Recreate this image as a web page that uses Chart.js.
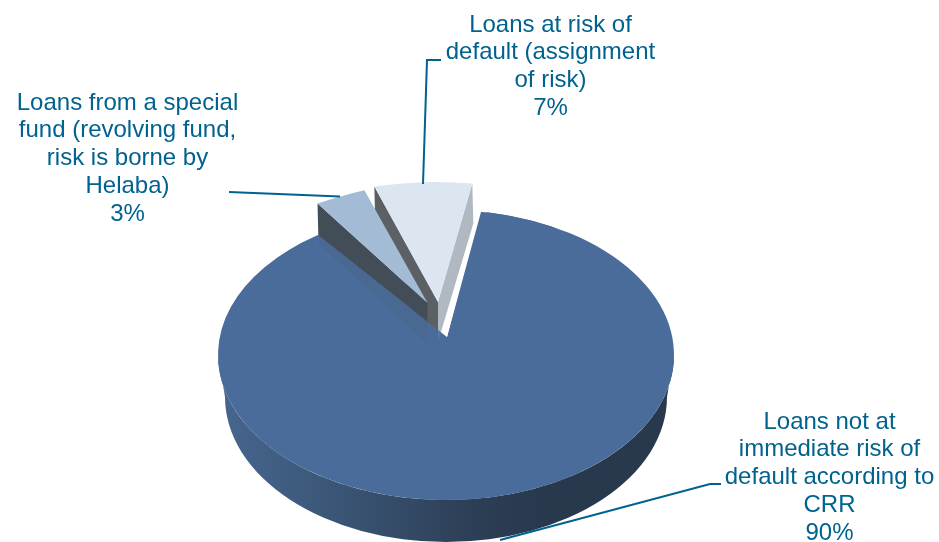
<!DOCTYPE html>
<html>
<head>
<meta charset="utf-8">
<title>Loans by risk</title>
<script src="https://cdn.jsdelivr.net/npm/chart.js@4/dist/chart.umd.min.js"></script>
<style>
    html, body { margin: 0; padding: 0; background: #fff; }
    canvas { display: block; }
</style>
</head>
<body>
<canvas id="riskChart" width="939" height="542"></canvas>
<script>
// Chart data
const categories = ['Loans not at immediate risk of default according to CRR', 'Loans from a special fund (revolving fund, risk is borne by Helaba)', 'Loans at risk of default (assignment of risk)'];
const shares = [90, 3, 7];
const sliceColors = ['#4A6C9B', '#A3BBD4', '#DCE6F1'];

// Wrapped label text, same order as categories
const labelLines = [
    ['Loans not at', 'immediate risk of', 'default according to', 'CRR'],
    ['Loans from a special', 'fund (revolving fund,', 'risk is borne by', 'Helaba)'],
    ['Loans at risk of', 'default (assignment', 'of risk)']
];

// Fake 3D projection of each slice (unit circle to pixels)
const views = [
    { x: 446, y: 355, a: 228, b: 0, c: 0, d: 145 },
    { x: 427.5, y: 303, a: 264, b: -28, c: -5, d: 124 },
    { x: 438, y: 302, a: 225, b: -2, c: 6, d: 120 }
];
const mainApex = { x: 447, y: 337 };
const mainStartDir = { x: 34, y: -125 };
const mainEndDir = { x: -129, y: -102 };
const wallDepth = 40;

// Label anchors and leader lines
const labelPos = [{ x: 829.5, y: 421 }, { x: 127.5, y: 102 }, { x: 550.5, y: 24 }];
const leaders = [
    [[500, 540], [710, 484], [721, 484]],
    [[229, 192], [340, 196.5]],
    [[423, 184], [427, 60], [441, 60]]
];

function applyView(ctx, arc, v) {
    const R = arc.outerRadius;
    ctx.transform(v.a / R, v.b / R, v.c / R, v.d / R, v.x, v.y);
    ctx.translate(-arc.x, -arc.y);
}

function project(v, angle) {
    const cx = Math.cos(angle), cy = Math.sin(angle);
    return { x: v.x + v.a * cx + v.c * cy, y: v.y + v.b * cx + v.d * cy };
}

// Flat side of a slice, hanging below one of its straight edges
function drawWall(ctx, v, angle, color) {
    const p = project(v, angle);
    ctx.fillStyle = color;
    ctx.beginPath();
    ctx.moveTo(v.x, v.y);
    ctx.lineTo(p.x, p.y);
    ctx.lineTo(p.x + 1, p.y + wallDepth);
    ctx.lineTo(v.x, v.y + wallDepth);
    ctx.closePath();
    ctx.fill();
}

const pie3d = {
    id: 'pie3d',
    beforeDatasetDraw(chart) {
        const ctx = chart.ctx;
        const arcs = chart.getDatasetMeta(0).data;
        const main = views[0];

        // curved outer wall of the big slice
        const grad = ctx.createLinearGradient(218, 0, 675, 0);
        grad.addColorStop(0, '#47668F');
        grad.addColorStop(0.2, '#3D5A7C');
        grad.addColorStop(0.55, '#2D3F56');
        grad.addColorStop(0.72, '#28384D');
        grad.addColorStop(1, '#28384D');
        ctx.save();
        ctx.fillStyle = grad;
        ctx.beginPath();
        ctx.ellipse(main.x, main.y, main.a, main.d, 0, 0, Math.PI);
        ctx.ellipse(main.x, main.y + 42, main.a - 7, main.d, 0, Math.PI, 0, true);
        ctx.closePath();
        ctx.fill();
        ctx.restore();

        const walls = () => {
            drawWall(ctx, views[2], arcs[2].endAngle, '#B0B9C1');
            drawWall(ctx, views[2], arcs[2].startAngle, '#5B6064');
            drawWall(ctx, views[1], arcs[1].startAngle, '#424D58');
        };
        walls();

        // big slice top, with the notch cut from its apparent apex
        ctx.save();
        ctx.beginPath();
        ctx.rect(0, 0, chart.width, chart.height);
        ctx.moveTo(mainApex.x, mainApex.y);
        ctx.lineTo(mainApex.x + mainStartDir.x * 8, mainApex.y + mainStartDir.y * 8);
        ctx.lineTo(mainApex.x + mainEndDir.x * 8, mainApex.y + mainEndDir.y * 8);
        ctx.closePath();
        ctx.clip('evenodd');
        ctx.save();
        applyView(ctx, arcs[0], main);
        arcs[0].draw(ctx);
        ctx.restore();
        // second pass from the apparent apex closes the gap near the apex
        ctx.save();
        ctx.beginPath();
        ctx.ellipse(main.x, main.y, main.a, main.d, 0, 0, Math.PI * 2);
        ctx.clip();
        applyView(ctx, arcs[0], { x: mainApex.x, y: mainApex.y, a: 190, b: 0, c: 0, d: 133 });
        arcs[0].draw(ctx);
        ctx.restore();
        // walls show faintly through the top
        ctx.globalAlpha = 0.13;
        walls();
        ctx.restore();

        // small slice tops
        [2, 1].forEach(i => {
            ctx.save();
            applyView(ctx, arcs[i], views[i]);
            arcs[i].draw(ctx);
            ctx.restore();
        });
        return false;
    },
    afterDraw(chart) {
        const ctx = chart.ctx;
        ctx.save();
        ctx.strokeStyle = '#00628F';
        ctx.lineWidth = 2;
        leaders.forEach(line => {
            ctx.beginPath();
            line.forEach((p, i) => i ? ctx.lineTo(p[0], p[1]) : ctx.moveTo(p[0], p[1]));
            ctx.stroke();
        });
        ctx.fillStyle = '#00628F';
        ctx.font = '24px "Liberation Sans", Arial, sans-serif';
        ctx.textAlign = 'center';
        ctx.textBaseline = 'middle';
        labelLines.forEach((lines, i) => {
            const all = lines.concat(shares[i] + '%');
            all.forEach((t, j) => ctx.fillText(t, labelPos[i].x, labelPos[i].y + 1 + j * 27.8));
        });
        ctx.restore();
    }
};

new Chart(document.getElementById('riskChart'), {
    type: 'pie',
    data: {
        labels: categories,
        datasets: [{
            data: shares,
            backgroundColor: sliceColors,
            borderWidth: 0
        }]
    },
    options: {
        responsive: false,
        animation: false,
        rotation: 10.3,
        plugins: {
            legend: { display: false },
            tooltip: { enabled: false }
        }
    },
    plugins: [pie3d]
});
</script>
</body>
</html>
